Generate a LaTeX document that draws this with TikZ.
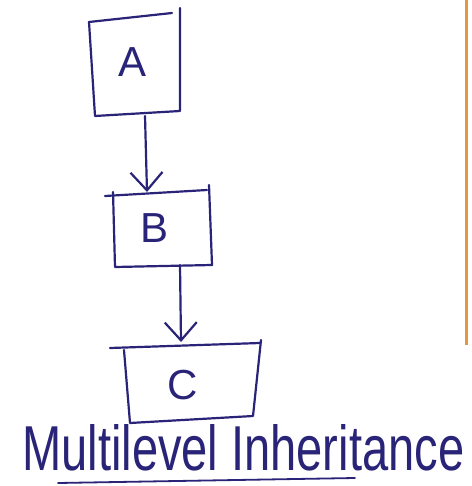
\documentclass[tikz,border=0pt]{standalone}
\usepackage{fontspec}
\setmainfont{Liberation Sans}
\usetikzlibrary{arrows.meta}
\definecolor{ink}{HTML}{2A2478}
\begin{document}
\begin{tikzpicture}[x=1pt,y=-1pt,
  pen/.style={draw=ink,line width=2.2pt,line join=round,line cap=round},
  lbl/.style={text=ink,font=\fontsize{42}{42}\selectfont},
  link/.style={pen,-{Straight Barb[length=18pt,width=32pt,line width=2.2pt]}}]
\useasboundingbox (0,0) rectangle (471,486);
\fill[white] (0,0) rectangle (471,486);
\draw[draw={rgb,255:red,230;green,150;blue,60},line width=3pt] (466,0) -- (466,345);
% box A
\draw[pen] (89,22) -- (172,13);
\draw[pen] (180,8) -- (180,111) -- (95,116) -- (89,22);
\node[lbl] (A) at (133,62) {A};
% box B
\draw[pen] (105,196) -- (207,190);
\draw[pen] (113,192) -- (115,267) -- (212,265) -- (209,185);
\node[lbl] (B) at (155,228) {B};
% box C
\draw[pen] (110,348) -- (260,343);
\draw[pen] (124,350) -- (130,423) -- (253,416) -- (261,340);
\node[lbl] (C) at (183,385) {C};
% connector anchors
\coordinate (As) at (145,116);
\coordinate (Bn) at (147,192);
\coordinate (Bs) at (180,265);
\coordinate (Cn) at (181,342);
\draw[link] (As) -- (Bn);
\draw[link] (Bs) -- (Cn);
% caption
\node[text=ink,anchor=south west,inner sep=0pt] (cap) at (22,471)
  {\resizebox{442pt}{46pt}{Multilevel Inheritance}};
\coordinate (u1) at (58,483);
\coordinate (u2) at (355,478);
\draw[pen,line width=1.8pt] (u1) -- (u2);
\end{tikzpicture}
\end{document}
